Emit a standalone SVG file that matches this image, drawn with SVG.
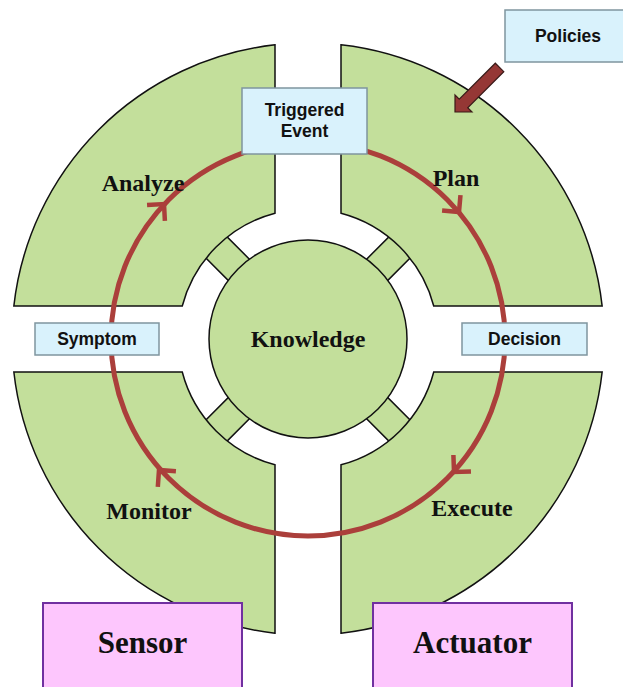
<svg xmlns="http://www.w3.org/2000/svg" width="623" height="687" viewBox="0 0 623 687">
<style>
.q{fill:#c3df9b;stroke:#111;stroke-width:1.5}
.cycle{fill:none;stroke:#ab3f3b;stroke-width:5}
.chev{fill:none;stroke:#ab3f3b;stroke-width:4.5;stroke-linecap:butt;stroke-linejoin:miter}
.lbl{font-family:"Liberation Serif","Times New Roman",serif;font-weight:bold;font-size:24px;fill:#111;text-anchor:middle}
.big{font-family:"Liberation Serif","Times New Roman",serif;font-weight:bold;font-size:31px;fill:#111;text-anchor:middle}
.box{fill:#d9f2fc;stroke:#7f959f;stroke-width:1.5}
.bt{font-family:"Liberation Sans",Arial,sans-serif;font-weight:bold;font-size:17.5px;fill:#111;text-anchor:middle}
.pink{fill:#fdc6fd;stroke:#7030a0;stroke-width:2}
</style>
<rect width="623" height="687" fill="#fff"/>
<g id="links">
<rect class="q" x="94" y="-15" width="40" height="30" transform="translate(308,339) rotate(45)"/>
<rect class="q" x="94" y="-15" width="40" height="30" transform="translate(308,339) rotate(135)"/>
<rect class="q" x="94" y="-15" width="40" height="30" transform="translate(308,339) rotate(225)"/>
<rect class="q" x="94" y="-15" width="40" height="30" transform="translate(308,339) rotate(315)"/>
</g>
<g id="analyze">
<path class="q" d="M13.85 306 A296 296 0 0 1 275 44.85 L275 213.26 A130 130 0 0 0 182.26 306 Z"/>
</g>
<g id="plan">
<path class="q" d="M341 44.85 A296 296 0 0 1 602.15 306 L433.74 306 A130 130 0 0 0 341 213.26 Z"/>
</g>
<g id="execute">
<path class="q" d="M602.15 372 A296 296 0 0 1 341 633.15 L341 464.74 A130 130 0 0 0 433.74 372 Z"/>
</g>
<g id="monitor">
<path class="q" d="M275 633.15 A296 296 0 0 1 13.85 372 L182.26 372 A130 130 0 0 0 275 464.74 Z"/>
</g>
<g id="knowledge">
<circle class="q" cx="308" cy="339" r="99"/>
<text class="lbl" x="308" y="347">Knowledge</text>
</g>
<g id="connectors">
<circle class="cycle" cx="308" cy="339" r="197"/>
<polyline class="chev" points="-12,-12 0,0 -12,12" transform="translate(164,204) rotate(312)"/>
<polyline class="chev" points="-12,-12 0,0 -12,12" transform="translate(459,212) rotate(50)"/>
<polyline class="chev" points="-12,-12 0,0 -12,12" transform="translate(454,472) rotate(133)"/>
<polyline class="chev" points="-12,-12 0,0 -12,12" transform="translate(159,470) rotate(229)"/>
<path d="M0 0 L12 -12 L12 -6 L63 -6 L63 6 L12 6 L12 12 Z" fill="#953735" stroke="#3a1a18" stroke-width="1.2" transform="translate(455,112) rotate(-45)"/>
</g>
<g id="labels">
<text class="lbl" x="143" y="191">Analyze</text>
<text class="lbl" x="456" y="186">Plan</text>
<text class="lbl" x="472" y="516">Execute</text>
<text class="lbl" x="149" y="519">Monitor</text>
</g>
<g id="triggered-event">
<rect class="box" x="242" y="88" width="125" height="66"/>
<text class="bt" x="304.5" y="116">Triggered</text>
<text class="bt" x="304.5" y="137">Event</text>
</g>
<g id="policies">
<rect class="box" x="505" y="10" width="124" height="52"/>
<text class="bt" x="568" y="42">Policies</text>
</g>
<g id="symptom">
<rect class="box" x="35" y="323" width="124" height="32"/>
<text class="bt" x="97" y="345">Symptom</text>
</g>
<g id="decision">
<rect class="box" x="462" y="323" width="125" height="32"/>
<text class="bt" x="524.5" y="345">Decision</text>
</g>
<g id="sensor">
<rect class="pink" x="43" y="603" width="199" height="95"/>
<text class="big" x="142.5" y="653">Sensor</text>
</g>
<g id="actuator">
<rect class="pink" x="373" y="603" width="199" height="95"/>
<text class="big" x="472.5" y="653">Actuator</text>
</g>
</svg>
